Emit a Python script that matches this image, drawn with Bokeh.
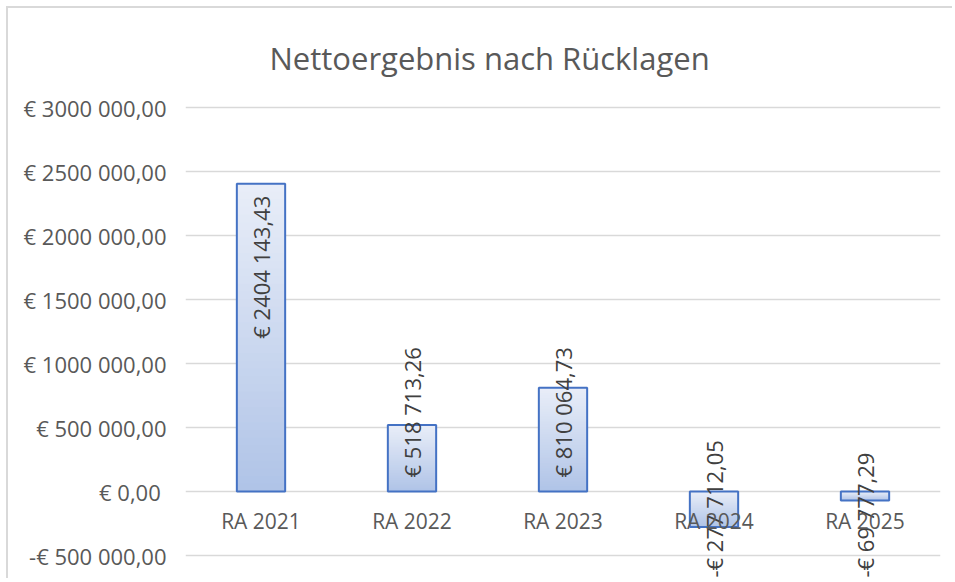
from bokeh.plotting import figure
from bokeh.models import ColumnDataSource, FactorRange, Range1d, FixedTicker
from bokeh.core.properties import value
from bokeh.embed import file_html
from bokeh.resources import INLINE

# ---- data ----
title_text = "Nettoergebnis nach Rücklagen"
categories = ["RA 2021", "RA 2022", "RA 2023", "RA 2024", "RA 2025"]
values = [2404143.43, 518713.26, 810064.73, -277712.05, -69777.29]
value_labels = ["€ 2404 143,43", "€ 518 713,26", "€ 810 064,73", "-€ 277 712,05", "-€ 69 777,29"]
tick_values = [-500000, 0, 500000, 1000000, 1500000, 2000000, 2500000, 3000000]
tick_labels = ["-€ 500 000,00", "€  0,00", "€ 500 000,00", "€ 1000 000,00",
               "€ 1500 000,00", "€ 2000 000,00", "€ 2500 000,00", "€ 3000 000,00"]

# ---- style ----
FONT = "Open Sans"
GRAY = "#595959"
W, H = 946, 572
BORDER_L, BORDER_R, BORDER_T, BORDER_B = 177, 14, 97, 0
PX = 500000 / 64.0          # data units per pixel
Y_END = 3000000 + 2 * PX
frame_h = H - BORDER_T - BORDER_B
Y_START = Y_END - frame_h * PX
BAR_W = 0.32

p = figure(x_range=FactorRange(*categories, range_padding=0),
           y_range=Range1d(Y_START, Y_END),
           width=W, height=H, output_backend="svg", toolbar_location=None,
           min_border_left=BORDER_L, min_border_right=BORDER_R,
           min_border_top=BORDER_T, min_border_bottom=BORDER_B,
           styles={"margin-left": "6px", "margin-top": "6px",
                   "border-left": "2px solid #d9d9d9", "border-top": "2px solid #d9d9d9"})
p.outline_line_color = None
p.background_fill_color = "white"
p.border_fill_color = "white"

# title
p.title.text = title_text
p.title.align = "left"
p.title.offset = 84
p.title.standoff = 50
p.title.vertical_align = "top"
p.title.text_font = FONT
p.title.text_font_size = "31px"
p.title.text_font_style = "normal"
p.title.text_color = GRAY

# axes
p.xaxis.visible = False
p.xgrid.grid_line_color = None
yax = p.yaxis[0]
yax.ticker = FixedTicker(ticks=tick_values)
yax.major_label_overrides = {t: l for t, l in zip(tick_values, tick_labels)}
yax.axis_line_color = None
yax.major_tick_line_color = None
yax.minor_tick_line_color = None
yax.major_tick_out = 0
yax.major_tick_in = 0
yax.major_label_standoff = 19
yax.major_label_text_font = FONT
yax.major_label_text_font_size = "22px"
yax.major_label_text_color = GRAY
p.ygrid.ticker = FixedTicker(ticks=tick_values)
p.ygrid.grid_line_color = "#d9d9d9"
p.ygrid.grid_line_width = 1.5


# gradient bars built from nested slices of each value (no seams)
def mix(c1, c2, t):
    a = [int(c1[i:i + 2], 16) for i in (1, 3, 5)]
    b = [int(c2[i:i + 2], 16) for i in (1, 3, 5)]
    return "#%02x%02x%02x" % tuple(round(a[j] + (b[j] - a[j]) * t) for j in range(3))


LIGHT, DARK = "#e9eef8", "#afc3e7"
N = 40
xs, bots, tops, cols = [], [], [], []
for c, v in zip(categories, values):
    for k in reversed(range(N)):
        y1 = v * (k + 1) / N
        frac_from_top = 1 - (k + 0.5) / N if v >= 0 else (k + 0.5) / N
        xs.append(c)
        bots.append(min(0, y1))
        tops.append(max(0, y1))
        cols.append(mix(LIGHT, DARK, frac_from_top))
p.vbar(x=xs, bottom=bots, top=tops, width=BAR_W, fill_color=cols, line_color=None)
p.vbar(x=categories, bottom=0, top=values, width=BAR_W, fill_color=None,
       line_color="#4472c4", line_width=2)

# value labels (rotated)
ly, la = [], []
for v in values:
    if v < 0:
        ly.append(-86 * PX)
        la.append("left")
    elif v / PX > 160:
        ly.append(v - 12 * PX)
        la.append("right")
    else:
        ly.append(14 * PX)
        la.append("left")
src = ColumnDataSource(dict(x=categories, y=ly, t=value_labels, a=la))
p.text(x="x", y="y", text="t", source=src, angle=1.5707963, text_align="a",
       text_baseline="middle", text_font=value(FONT), text_font_size="22px",
       text_color="#404040")

# category labels at the zero line
p.text(x=categories, y=[-15 * PX] * len(categories), text=categories,
       text_align="center", text_baseline="top", text_font=value(FONT),
       text_font_size="21px", text_color=GRAY)

open("out.html", "w").write(file_html(p, INLINE))
